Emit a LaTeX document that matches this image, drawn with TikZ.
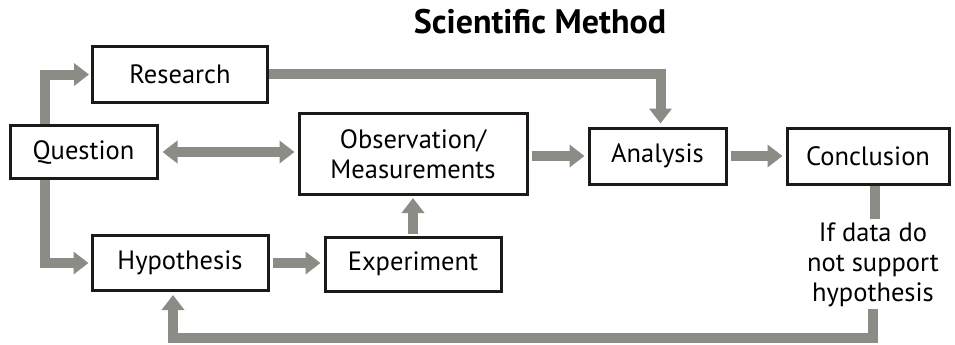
\documentclass[tikz,border=0pt]{standalone}
\usepackage{fontspec}
\setmainfont{PT Sans}
\usetikzlibrary{arrows.meta}
\definecolor{arrowgray}{RGB}{140,140,135}
\definecolor{boxline}{RGB}{30,25,25}
\tikzset{
  box/.style={draw=boxline, line width=3pt, fill=white, inner sep=0pt, align=center,
    font=\fontsize{26.5}{30}\selectfont},
  arr/.style={draw=arrowgray, line width=10pt, line cap=butt,
    -{Triangle[width=22pt,length=15pt]}},
  darr/.style={draw=arrowgray, line width=10pt, line cap=butt,
    {Triangle[width=22pt,length=15pt]}-{Triangle[width=22pt,length=15pt]}},
  bar/.style={draw=arrowgray, line width=10pt, line cap=butt},
}
\begin{document}
\begin{tikzpicture}[x=1pt,y=-1pt]
\useasboundingbox (0,0) rectangle (955,345);
\node[font=\bfseries\fontsize{34}{38}\selectfont] (title) at (540,22) {Scientific Method};
\node[box, minimum width=175pt, minimum height=55pt] (r) at (180,74.5) {Research};
\node[box, minimum width=147pt, minimum height=53pt] (q) at (83.5,152) {Question};
\node[box, minimum width=228pt, minimum height=81pt] (o) at (413,154) {Observation/\\Measurements};
\node[box, minimum width=137pt, minimum height=56pt] (a) at (657.5,156) {Analysis};
\node[box, minimum width=162pt, minimum height=56pt] (c) at (868,156) {Conclusion};
\node[box, minimum width=176pt, minimum height=55pt] (h) at (180,263) {Hypothesis};
\node[box, minimum width=176pt, minimum height=54pt] (e) at (413,264) {Experiment};
\node[align=center, inner sep=0pt, font=\fontsize{26.5}{30}\selectfont] (t) at (873,265) {If data do\\not support\\hypothesis};
\coordinate (loop) at (500,338);
% connectors
\draw[arr] ([xshift=36pt]q.north west) |- ([xshift=-2pt]r.west);
\draw[arr] ([xshift=36pt]q.south west) |- ([xshift=-2pt]h.west);
\draw[darr, shorten <=4pt, shorten >=3pt] (q.east) -- (q.east -| o.west);
\draw[arr, shorten >=3pt] ([yshift=0.5pt]r.east) -| ([xshift=3pt]a.north);
\draw[arr, shorten <=3pt, shorten >=3pt] (o.east |- a.west) -- (a.west);
\draw[arr, shorten <=3pt, shorten >=3pt] (a.east) -- (c.west);
\draw[arr, shorten <=3pt, shorten >=3pt] (h.east) -- (h.east -| e.west);
\draw[arr, shorten <=2pt, shorten >=2pt] (e.north) -- (o.south -| e.north);
\draw[bar, shorten >=4pt] ([xshift=7pt]c.south) -- ([xshift=2pt]t.north);
\draw[arr, shorten >=3pt] ([yshift=-2pt]t.south) |- (loop) -| ([xshift=-7pt]h.south);
\end{tikzpicture}
\end{document}
